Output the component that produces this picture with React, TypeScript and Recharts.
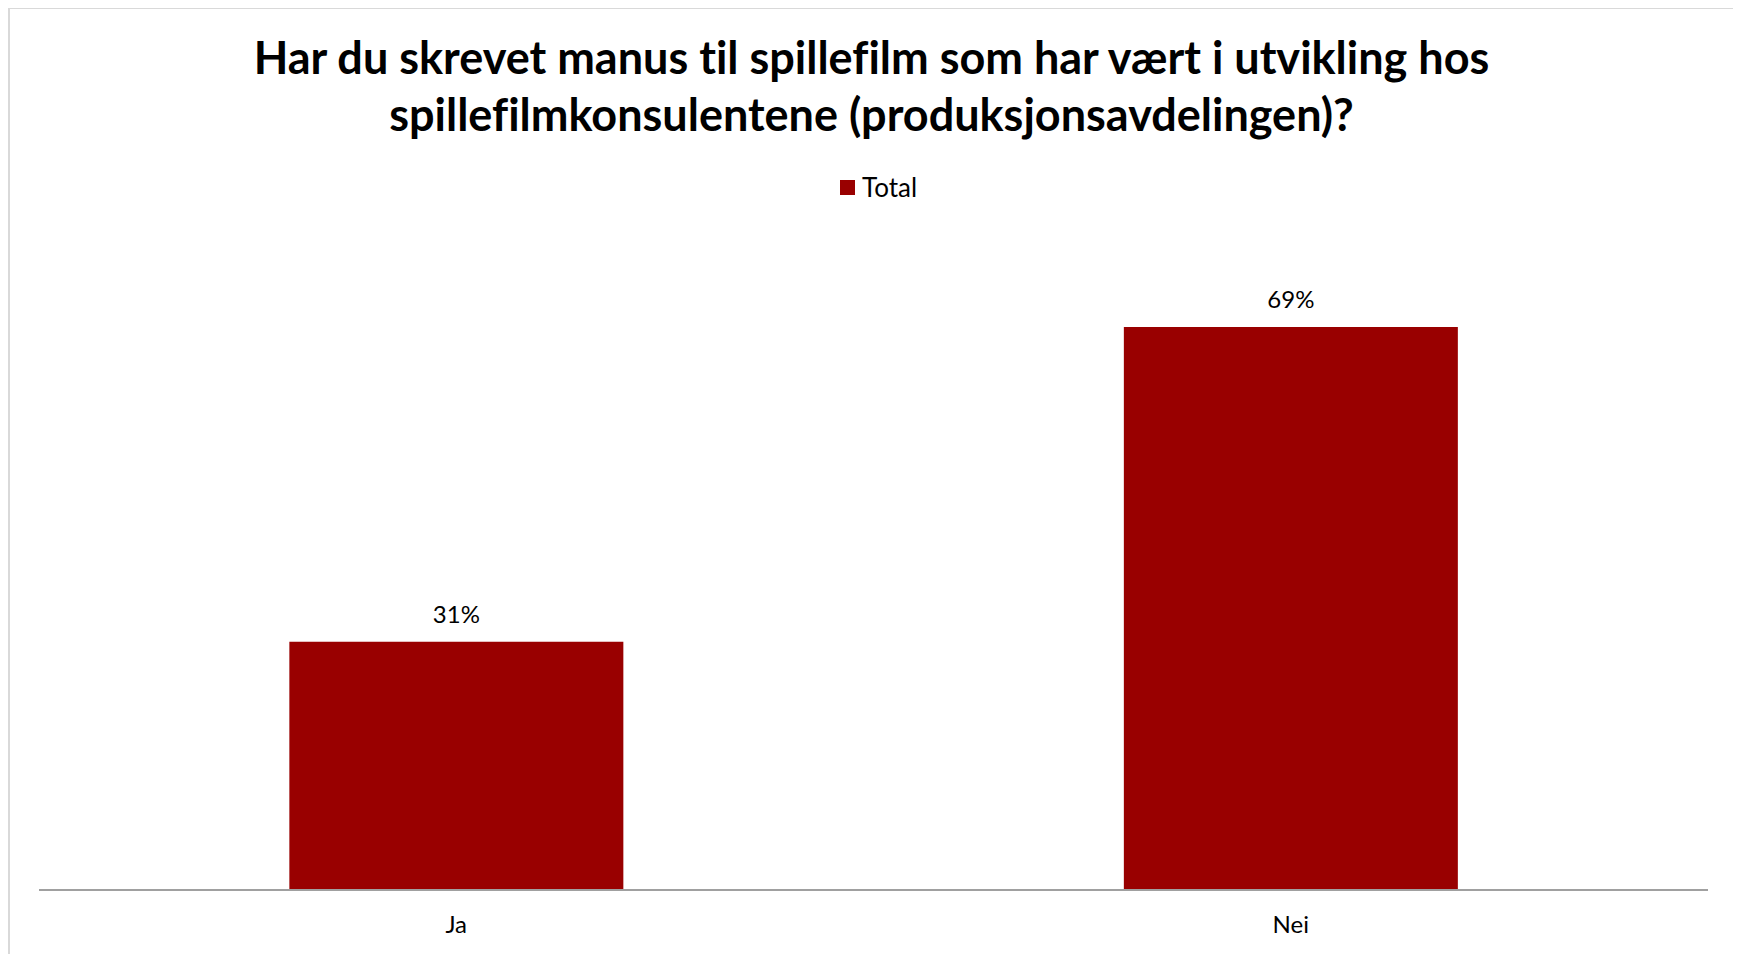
import React from "react";
import { BarChart, Bar, XAxis, YAxis, Legend, LabelList } from "recharts";

const categories = ["Ja", "Nei"];
const totalValues = [0.306, 0.694];
const seriesName = "Total";
const titleLines = [
  "Har du skrevet manus til spillefilm som har vært i utvikling hos",
  "spillefilmkonsulentene (produksjonsavdelingen)?",
];

const data = categories.map((c, i) => ({ category: c, total: totalValues[i] }));

const W = 1727;
const H = 946;
const FONT = "Lato, 'Open Sans', sans-serif";
const RED = "#990000";

const CategoryTick = (props: any) => {
  const { x, y, payload } = props;
  return (
    <text x={x} y={y + 43} textAnchor="middle" fontFamily={FONT} fontSize={24} fill="#000">
      {payload.value}
    </text>
  );
};

const LegendContent = () => (
  <div
    style={{
      display: "flex",
      alignItems: "center",
      fontFamily: FONT,
      fontSize: 26,
      lineHeight: "31px",
      color: "#000",
      fontVariantLigatures: "none",
    }}
  >
    <span style={{ display: "inline-block", width: 15, height: 15, background: RED, marginRight: 7 }} />
    <span>{seriesName}</span>
  </div>
);

export default function App() {
  return (
    <div style={{ position: "relative", width: W, height: H }}>
      <div
        style={{
          position: "absolute",
          left: 0,
          top: -1,
          width: W,
          height: 970,
          border: "2px solid #d9d9d9",
          boxSizing: "border-box",
          pointerEvents: "none",
        }}
      />
      <div
        style={{
          position: "absolute",
          left: 0,
          top: 21,
          width: W,
          textAlign: "center",
          fontFamily: FONT,
          fontWeight: 700,
          fontSize: 45,
          lineHeight: "57px",
          color: "#000",
          fontVariantLigatures: "none",
        }}
      >
        {titleLines.map((l, i) => (
          <div key={i}>{l}</div>
        ))}
      </div>
      <div style={{ position: "absolute", left: 0, top: 0 }}>
        <BarChart
          width={W}
          height={H}
          data={data}
          margin={{ top: 233, right: 27, bottom: 4, left: 31 }}
          barCategoryGap="30%"
        >
          <XAxis
            dataKey="category"
            axisLine={{ stroke: "#a0a0a0", strokeWidth: 2 }}
            tickLine={false}
            tickSize={0}
            tickMargin={0}
            height={60}
            tick={<CategoryTick />}
            interval={0}
          />
          <YAxis hide domain={[0, 0.8]} />
          <Legend
            layout="horizontal"
            verticalAlign="middle"
            align="center"
            content={<LegendContent />}
            wrapperStyle={{ position: "absolute", top: 164, left: 832, width: 200 }}
          />
          <Bar dataKey="total" name={seriesName} fill={RED} isAnimationActive={false}>
            <LabelList
              dataKey="total"
              position="top"
              offset={19}
              fontFamily={FONT}
              fontSize={24}
              fill="#000"
              formatter={(v: any) => `${Math.round(Number(v) * 100)}%`}
            />
          </Bar>
        </BarChart>
      </div>
    </div>
  );
}
